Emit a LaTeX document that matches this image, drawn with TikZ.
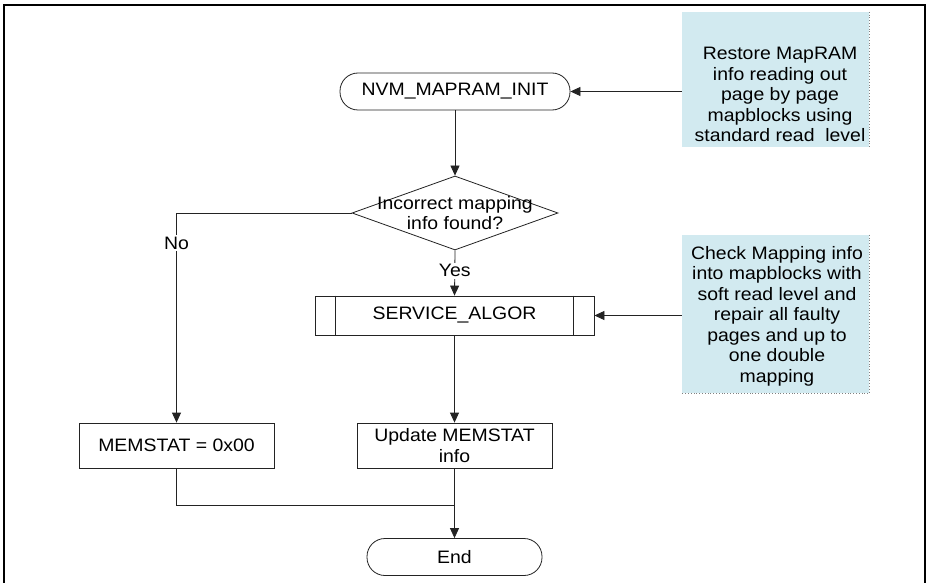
\documentclass[tikz,border=0pt]{standalone}
\usepackage{fontspec}
\setmainfont{Liberation Sans}[FakeStretch=1.08]
\usetikzlibrary{shapes.geometric,arrows.meta}
\definecolor{notefill}{RGB}{210,234,240}
\definecolor{linec}{RGB}{35,35,35}
\begin{document}
\begin{tikzpicture}[x=1pt,y=-1pt,
  font=\fontsize{18}{20.5}\selectfont,
  term/.style={draw=linec,line width=0.8pt,rounded corners=18pt,minimum height=37pt,inner sep=0pt},
  procbox/.style={draw=linec,line width=0.8pt,minimum height=45pt,minimum width=195pt,align=center,inner sep=0pt},
  notebox/.style={fill=notefill,minimum width=187pt,inner sep=0pt},
  notetext/.style={align=center,inner sep=0pt},
  arr/.style={draw=linec,line width=0.8pt,-{Triangle[length=10pt,width=9pt]}},
  ln/.style={draw=linec,line width=0.8pt},
  lbl/.style={fill=white,inner sep=1.5pt}]
\useasboundingbox (0,0) rectangle (927,583);
\fill[white] (0,0) rectangle (927,583);
% frame
\draw[line width=1.6pt] (4,600) -- (4,5) -- (925,5) -- (925,600);

% notes
\node[notebox,minimum height=135pt] (n1) at (775.5,79.5) {};
\draw[gray,dotted,line width=0.8pt] (n1.north east) -- (n1.south east);
\node[notetext] (n1t) at (780,94.5) {Restore MapRAM\\info reading out\\page by page\\mapblocks using\\standard read\ \ level};

\node[notebox,minimum height=158pt] (n2) at (775.5,314) {};
\draw[gray,dotted,line width=0.8pt] (n2.north east) -- (n2.south east) -- (n2.south west);
\node[notetext] (n2t) at (777,316) {Check Mapping info\\into mapblocks with\\soft read level and\\repair all faulty\\pages and up to\\one double\\mapping};

% flow nodes
\node[term,minimum width=230pt] (init) at (455,91.5) {NVM\_MAPRAM\_INIT};
\node[diamond,draw=linec,line width=0.8pt,minimum width=206pt,minimum height=74pt,inner sep=0pt] (dec) at (455,213) {};
\node[notetext] (dect) at (dec.center) {Incorrect mapping\\info found?};
\node[procbox,minimum width=279pt,minimum height=39pt] (svc) at (454.5,315.5) {SERVICE\_ALGOR};
\draw[ln] ([xshift=21pt]svc.north west) -- ([xshift=21pt]svc.south west);
\draw[ln] ([xshift=-21pt]svc.north east) -- ([xshift=-21pt]svc.south east);
\node[procbox] (mem0) at (176.5,445.5) {MEMSTAT = 0x00};
\node[procbox] (upd) at (454.5,445.5) {Update MEMSTAT\\info};
\node[term,minimum width=175pt] (end) at (454.5,557) {End};
\coordinate (merge) at (upd.south |- 0,505);

% connectors
\draw[arr] (n1.west |- init.east) -- (init.east);
\draw[arr] (n2.west |- svc.east) -- (svc.east);
\draw[arr] (init.south) -- (dec.north);
\draw[arr] (dec.south) -- node[lbl,pos=0.45] (yes) {Yes} (svc.north);
\draw[arr] (dec.west) -| node[lbl,pos=0.572] (no) {No} (mem0.north);
\draw[arr] (svc.south) -- (upd.north);
\draw[ln] (mem0.south) |- (merge);
\draw[arr] (upd.south) -- (end.north);
\end{tikzpicture}
\end{document}
